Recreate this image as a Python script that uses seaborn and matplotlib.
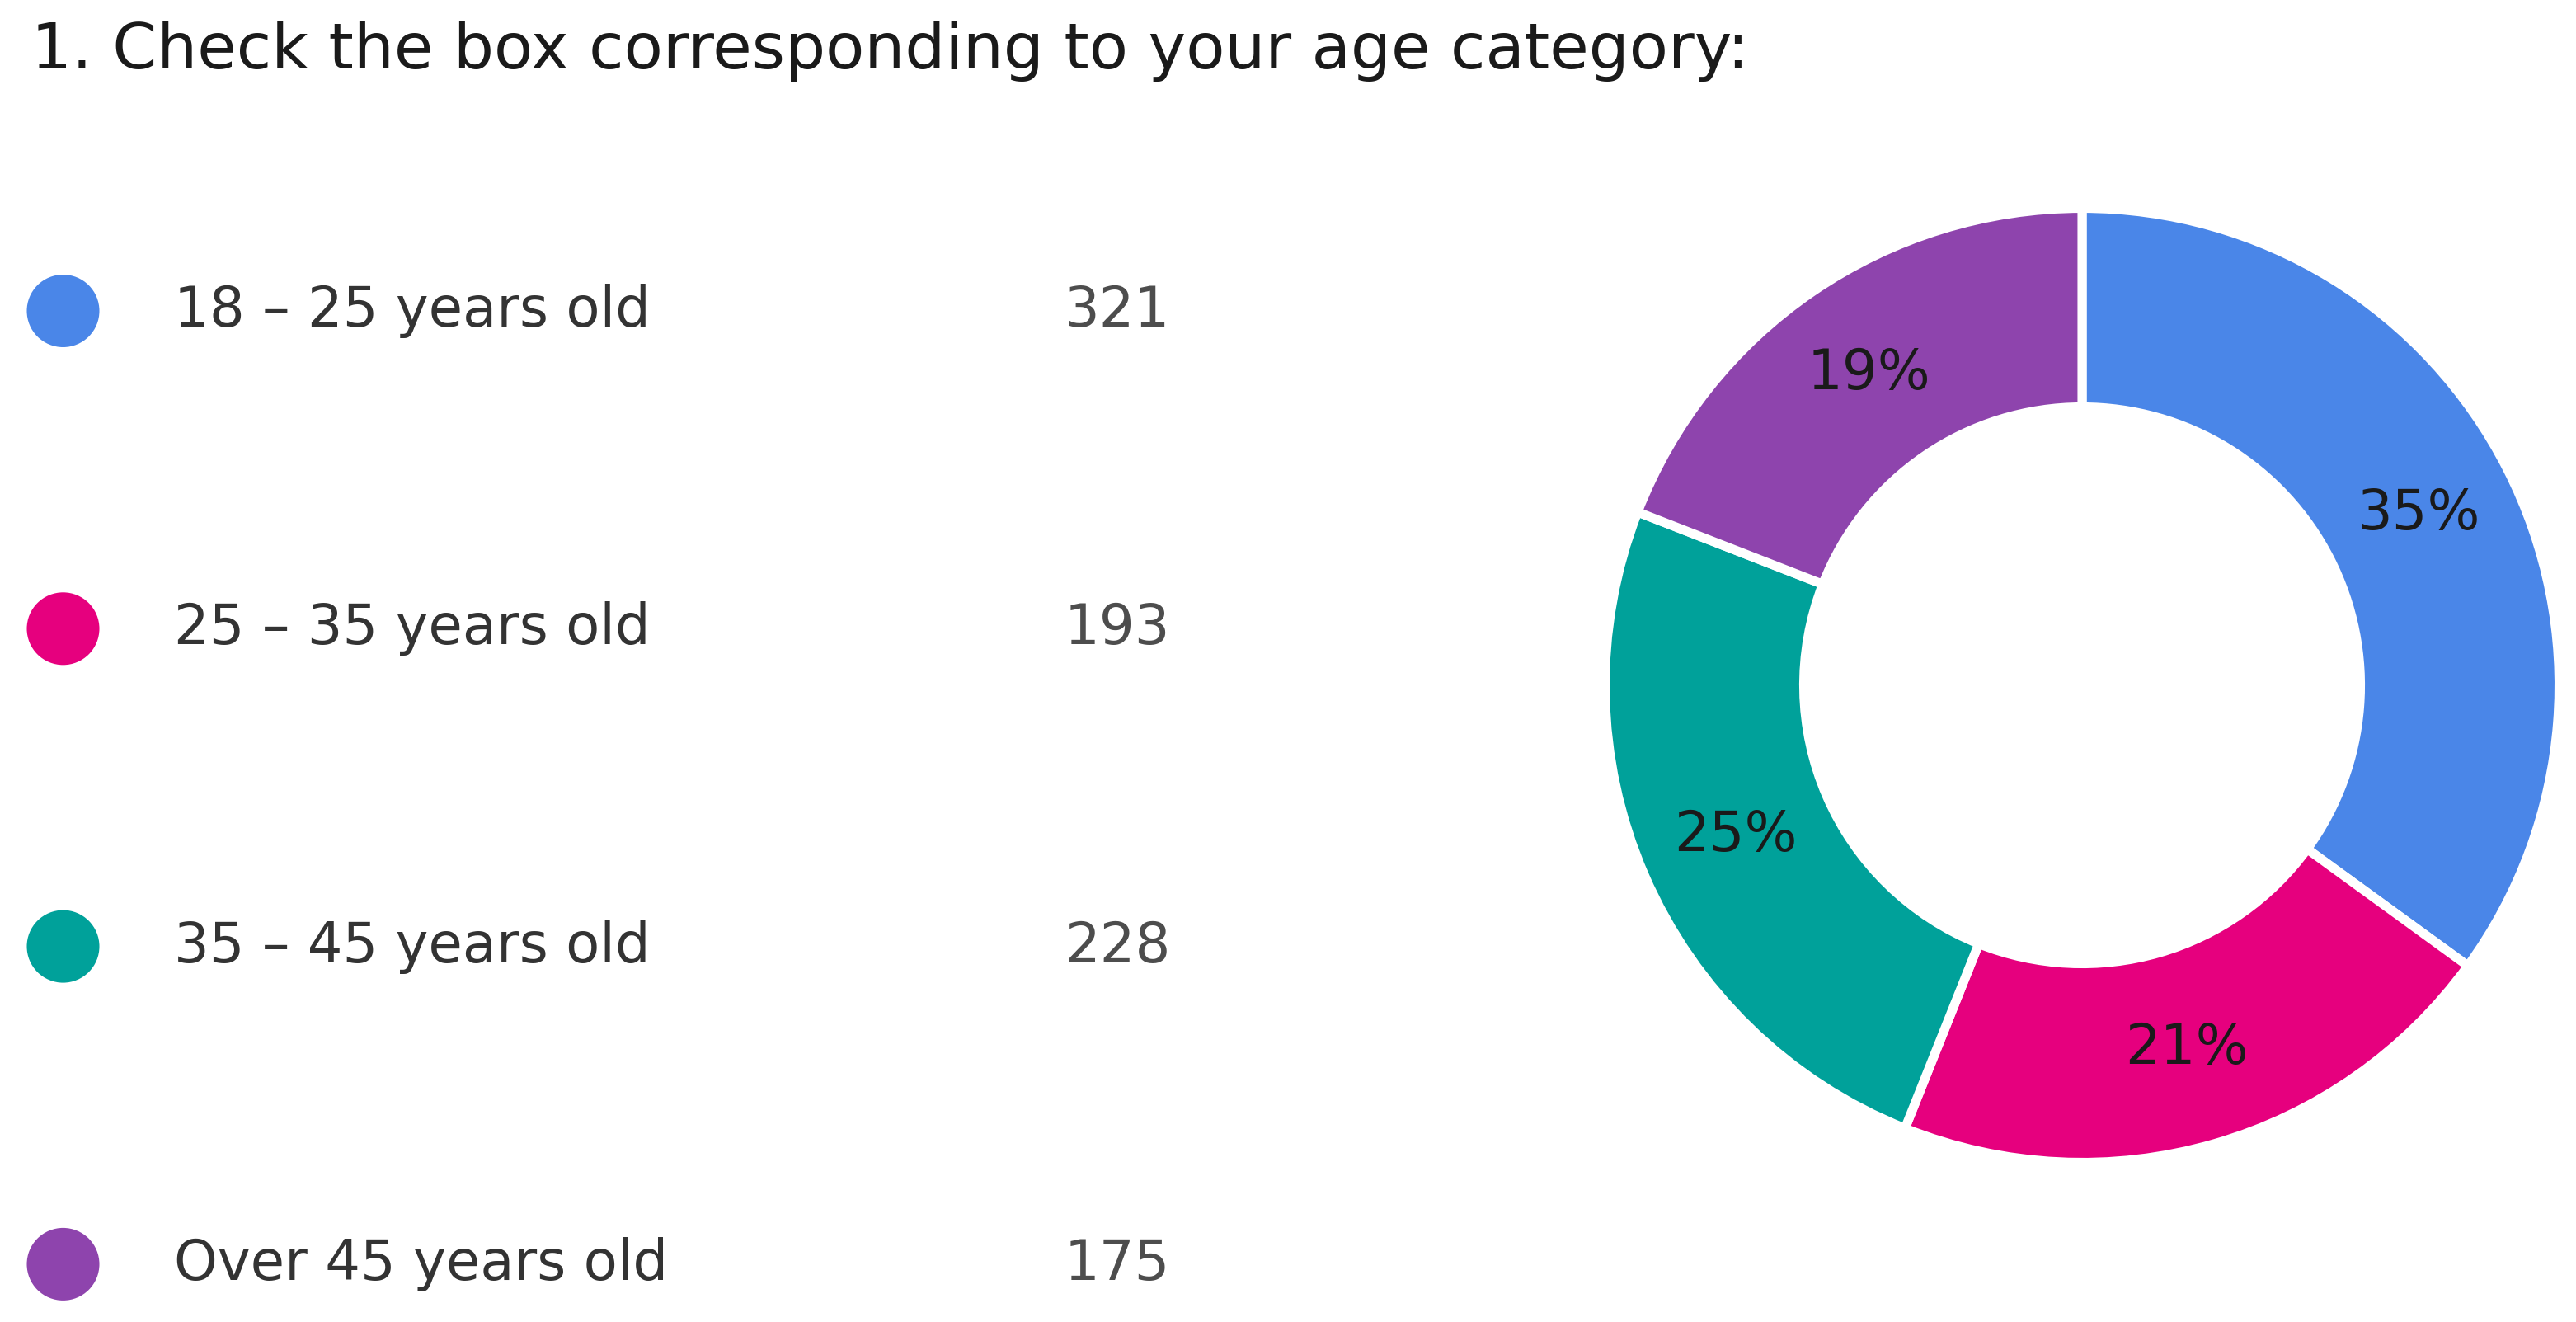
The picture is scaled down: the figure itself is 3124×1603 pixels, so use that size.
import matplotlib
matplotlib.use("Agg")
import matplotlib.pyplot as plt
import seaborn as sns
import pandas as pd
import numpy as np

# ---- data ----
title = "1. Check the box corresponding to your age category:"
categories = ["18 – 25 years old", "25 – 35 years old", "35 – 45 years old", "Over 45 years old"]
counts = [321, 193, 228, 175]
colors = ["#4a86e8", "#e6007e", "#00a19a", "#8e44ad"]

sns.set_theme(style="white")
plt.rcParams['font.family'] = ['DejaVu Sans']

W, H, DPI = 3124, 1603, 200
fig = plt.figure(figsize=(W / DPI, H / DPI), dpi=DPI)
fig.patch.set_facecolor("white")

# ---- legend area (pixel coordinates) ----
ax = fig.add_axes([0, 0, 1, 1])
row_y0, row_step = 377, 385.3
df = pd.DataFrame({"category": categories, "count": counts})
df["x"] = 76.5
df["y"] = row_y0 + row_step * np.arange(len(df))
sns.scatterplot(data=df, x="x", y="y", hue="category", palette=colors,
                s=1004, linewidth=0, legend=False, ax=ax)
ax.set_xlim(0, W)
ax.set_ylim(H, 0)
ax.axis("off")

ax.text(38, 83, title, fontsize=27.8, color="#1a1a1a", va="baseline", ha="left")
for _, r in df.iterrows():
    ax.text(211, r["y"] + 19, r["category"], fontsize=24.2, color="#333333",
            va="baseline", ha="left")
    ax.text(1419, r["y"] + 19, f"{r['count']}", fontsize=24.2, color="#4d4d4d",
            va="baseline", ha="right")

# ---- donut ----
cx, cy = 2525, 831
Rwedge = 578.5      # px, wedge radius (white edge covers outer 5.5 px)
Rbox = 610          # px, half-size of the axes box
cy_b = H - cy
axp = fig.add_axes([(cx - Rbox) / W, (cy_b - Rbox) / H, 2 * Rbox / W, 2 * Rbox / H])
axp.pie(counts, colors=colors, startangle=90, counterclock=False,
        radius=1.0, pctdistance=0.792,
        autopct=lambda p: f"{p:.0f}%",
        wedgeprops=dict(width=0.4166, edgecolor="white", linewidth=4),
        textprops=dict(fontsize=24.2, color="#1a1a1a"))
lim = Rbox / Rwedge
axp.set_xlim(-lim, lim)
axp.set_ylim(-lim, lim)
axp.set_aspect("equal")
axp.axis("off")

fig.savefig("out.png", dpi=DPI, facecolor="white")
